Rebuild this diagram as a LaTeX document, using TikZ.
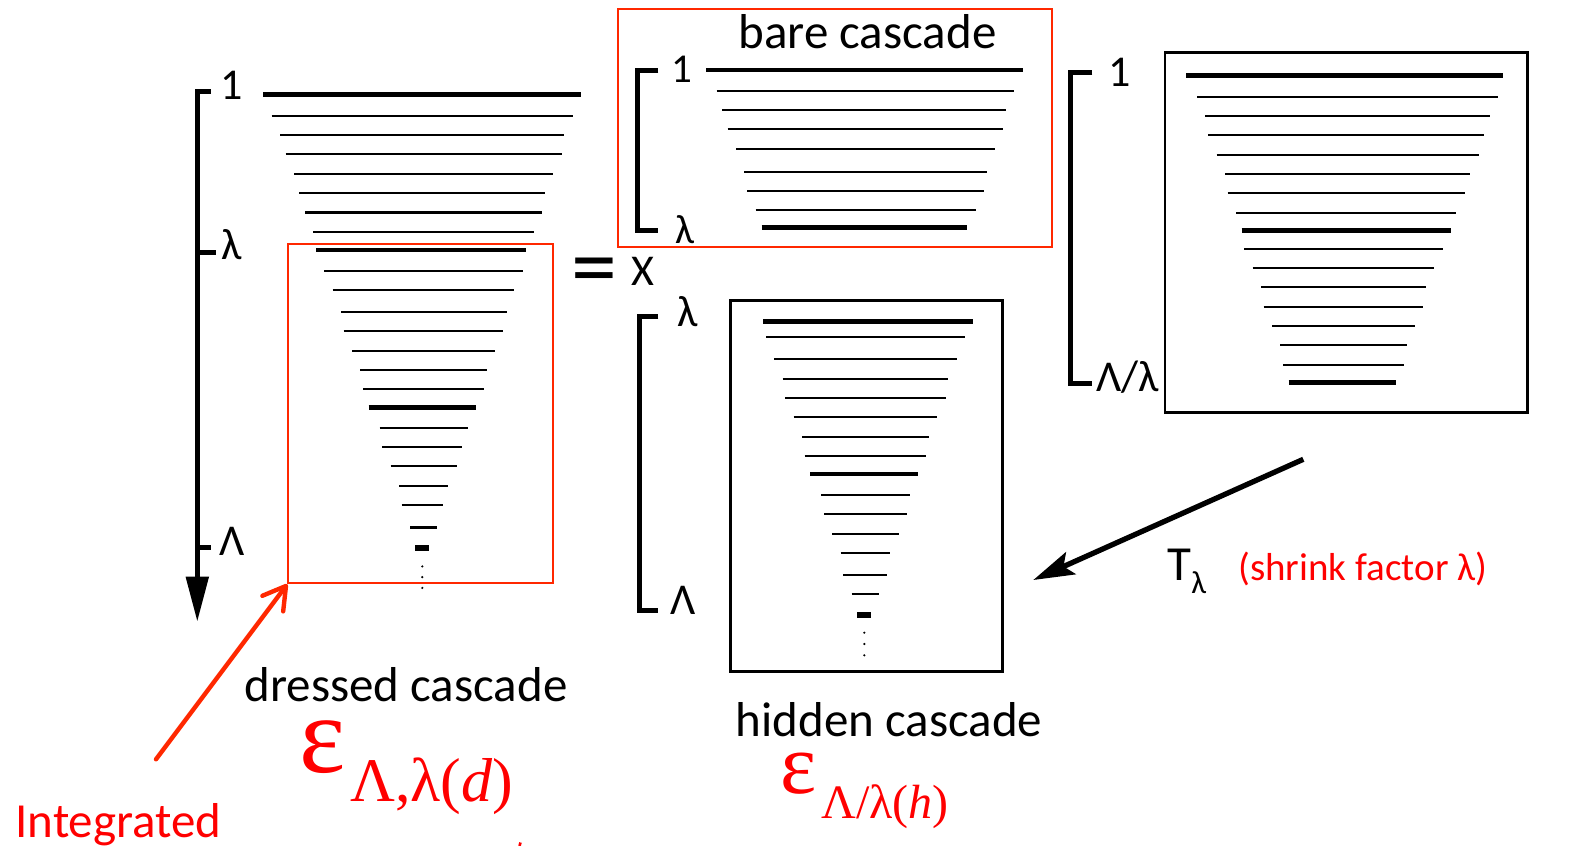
\documentclass[tikz,border=0pt]{standalone}
\usepackage{fontspec}
\setmainfont{Carlito}
\newfontfamily\serifgr{Liberation Serif}
\usetikzlibrary{arrows.meta}
\definecolor{boxred}{RGB}{255,40,0}
\definecolor{txtred}{RGB}{255,0,0}
\tikzset{
  thinln/.style={line width=1.05pt, line cap=butt},
  thickln/.style={line width=2.45pt, line cap=butt},
  brk/.style={line width=2.5pt, line join=miter, line cap=butt},
  redbox/.style={draw=boxred, line width=1pt, inner sep=0pt, fill=none},
  blkbox/.style={draw=black, line width=1.3pt, inner sep=0pt},
  lbl/.style={inner sep=0pt, anchor=base, font=\fontsize{22}{26}\selectfont},
  ttl/.style={inner sep=0pt, anchor=base, font=\fontsize{24.5}{29}\selectfont},
  dotm/.style={fill=black, draw=none},
}
\begin{document}
\begin{tikzpicture}[x=0.5pt, y=-0.5pt]
\useasboundingbox (0,0) rectangle (1591,846);

% ---------- left (dressed) cascade ----------
\coordinate (axtop) at (197.3,91.4);
\coordinate (axend) at (197.3,621.7);
\draw[brk] (210.7,91.4) -- (axtop) -- (197.3,575) ;
\draw[line width=2.5pt, -{Triangle[length=22.5pt,width=11pt]}] (197.3,560) -- (axend);
\draw[brk] (197.3,252.9) -- (216,252.9);
\draw[brk] (197.3,547.5) -- (210.7,547.5);
\node[lbl] (l1) at (232,99) {1};
\node[lbl] (llam) at (232,259) {λ};
\node[lbl] (lLam) at (232,555) {Λ};

\foreach \xa/\xb/\yy in {271.7/572.7/115.7, 280/564.3/135, 285.7/561.7/154.3, 294/553.3/173.6, 299.3/545/192.9, 305/542.3/212.5, 313.3/534/231.8, 324.3/522.7/270.7, 332.7/514.3/290, 341/506.7/312.1, 343.7/503.3/331.4, 352/495.3/350.7, 360.3/487/370, 363/484.3/389.3, 379.7/467.7/427.9, 382.3/462.3/447.1, 390.7/456.7/466.4, 399/448.3/486.1, 401.7/442.7/505.4, 410/437.3/527.5}
  \draw[thinln] (\xa,\yy) -- (\xb,\yy);
\foreach \xa/\xb/\yy in {263.3/581/94.6, 316/525.7/250, 368.7/476/407.5}
  \draw[thickln] (\xa,\yy) -- (\xb,\yy);
\draw[line width=2.9pt] (415.3,548.2) -- (429,548.2);
\foreach \yy in {566.4,577.1,587.9} \fill[dotm] (422.3,\yy) circle (1.2);

\node[redbox, minimum width=132.2pt, minimum height=169.6pt] (dbox) at (420.5,413.6) {};

% ---------- equals X ----------
\node[inner sep=0pt, anchor=base, font=\fontsize{46}{50}\selectfont] (eq) at (594.3,297) {=};
\node[inner sep=0pt, anchor=base, font=\fontsize{22}{26}\selectfont] (xx) at (642.8,285) {X};

% ---------- bare cascade ----------
\node[redbox, minimum width=216.7pt, minimum height=118.6pt] (bbox) at (835,127.9) {};
\node[ttl] (btitle) at (867.5,48) {bare cascade};
\draw[brk] (658.3,70) -- (637.3,70) -- (637.3,230) -- (658.3,230);
\node[lbl, font=\fontsize{20.5}{24}\selectfont] (b1) at (681.7,82) {1};
\node[lbl, font=\fontsize{20.5}{24}\selectfont] (blam) at (685,243) {λ};
\foreach \xa/\xb/\yy in {716.7/1014.3/90.7, 722.3/1006/110, 727.7/1003.3/129.3, 736/995/149.3, 744.3/986.7/171.7, 747.3/984/190.7, 755.7/975.7/210}
  \draw[thinln] (\xa,\yy) -- (\xb,\yy);
\foreach \xa/\xb/\yy in {706/1022.7/70, 761.7/967.3/227.7}
  \draw[thickln] (\xa,\yy) -- (\xb,\yy);

% ---------- right cascade ----------
\node[blkbox, minimum width=181.35pt, minimum height=180pt] (rbox) at (1346.3,232.3) {};
\draw[brk] (1092.3,72.7) -- (1070,72.7) -- (1070,383.3) -- (1092.3,383.3);
\node[lbl, font=\fontsize{22}{26}\selectfont] (r1) at (1120,86.7) {1};
\node[lbl, font=\fontsize{22}{26}\selectfont] (rLl) at (1128,391) {Λ/λ};
\foreach \xa/\xb/\yy in {1197/1497.7/96.7, 1205.3/1489.7/116, 1208.3/1484/135.3, 1216.7/1478.7/154.7, 1225/1470.3/174, 1227.7/1464.7/193.3, 1236/1456.3/212.7, 1244.3/1442.7/248.7, 1252.7/1434.3/268, 1261/1426/287.3, 1263.7/1423.3/306.7, 1272/1415/326, 1280.3/1406.7/345.3, 1283/1404/364.7}
  \draw[thinln] (\xa,\yy) -- (\xb,\yy);
\foreach \xa/\xb/\yy in {1186/1503.3/75.7, 1241.7/1451/230.7, 1288.7/1395.7/382.7}
  \draw[thickln] (\xa,\yy) -- (\xb,\yy);

% ---------- hidden cascade ----------
\node[blkbox, minimum width=136pt, minimum height=185.5pt] (hbox) at (866.7,486.2) {};
\draw[brk] (658.3,316.7) -- (639.3,316.7) -- (639.3,610) -- (658.3,610);
\node[lbl] (hlam) at (687.3,326.7) {λ};
\node[lbl] (hLam) at (683.3,614) {Λ};
\foreach \xa/\xb/\yy in {766/965/337.3, 774.3/956.7/359.3, 782.7/948.3/378.7, 785.3/945.7/398, 793.7/937.3/417.3, 802/929/436.7, 804.7/926.3/456, 821.3/909.7/495, 824/907/514.3, 832.3/898.7/533.7, 840.7/890.3/553, 843.3/887.3/575, 851.7/879.3/594.3}
  \draw[thinln] (\xa,\yy) -- (\xb,\yy);
\foreach \xa/\xb/\yy in {763.3/973.3/321.7, 810.3/918/474}
  \draw[thickln] (\xa,\yy) -- (\xb,\yy);
\draw[line width=2.9pt] (857.3,615) -- (871,615);
\foreach \yy in {632.7,644,655.3} \fill[dotm] (864.3,\yy) circle (1.2);

% ---------- T_lambda arrow ----------
\coordinate (tstart) at (1303.3,459.3);
\coordinate (ttip) at (1033.3,580);
\draw[line width=2.65pt, -{Stealth[length=20.5pt,width=12pt,inset=4pt]}] (tstart) -- (ttip);
\node[inner sep=0pt, anchor=base west, font=\fontsize{24.5}{29}\selectfont] (tl) at (1167,580) {T\raisebox{-6.5pt}{\fontsize{16}{18}\selectfont λ}};
\node[inner sep=0pt, anchor=base west, text=txtred, font=\fontsize{19.5}{23}\selectfont] (shr) at (1238,580) {(shrink factor λ)};

% ---------- labels below ----------
\node[ttl] (dlab) at (406,701) {dressed cascade};
\node[ttl] (hlab) at (889,736.7) {hidden cascade};
\node[inner sep=0pt, anchor=base west, text=txtred, font=\serifgr\fontsize{55}{59}\selectfont] (epsd) at (299,772) {ε};
\node[inner sep=0pt, anchor=base west, text=txtred, font=\serifgr\fontsize{31}{35}\selectfont] (subd) at (350,801.7) {Λ,λ(\textit{d})};
\node[inner sep=0pt, anchor=base west, text=txtred, font=\serifgr\fontsize{43}{47}\selectfont] (epsh) at (780,793.5) {ε};
\node[inner sep=0pt, anchor=base west, text=txtred, font=\serifgr\fontsize{24}{28}\selectfont] (subh) at (821,818.3) {Λ/λ(\textit{h})};
\node[inner sep=0pt, anchor=base west, text=txtred, font=\fontsize{24.5}{29}\selectfont] (integ) at (15,837) {Integrated};
\draw[txtred, line width=1.3pt] (520.5,842.5) -- (519.5,846);

% ---------- red arrow ----------
\coordinate (rstart) at (156,759.3);
\draw[boxred, line width=2.2pt, line cap=round, -{Straight Barb[length=11pt,width=13pt,round]}] (rstart) -- (dbox.south west);
\end{tikzpicture}
\end{document}
